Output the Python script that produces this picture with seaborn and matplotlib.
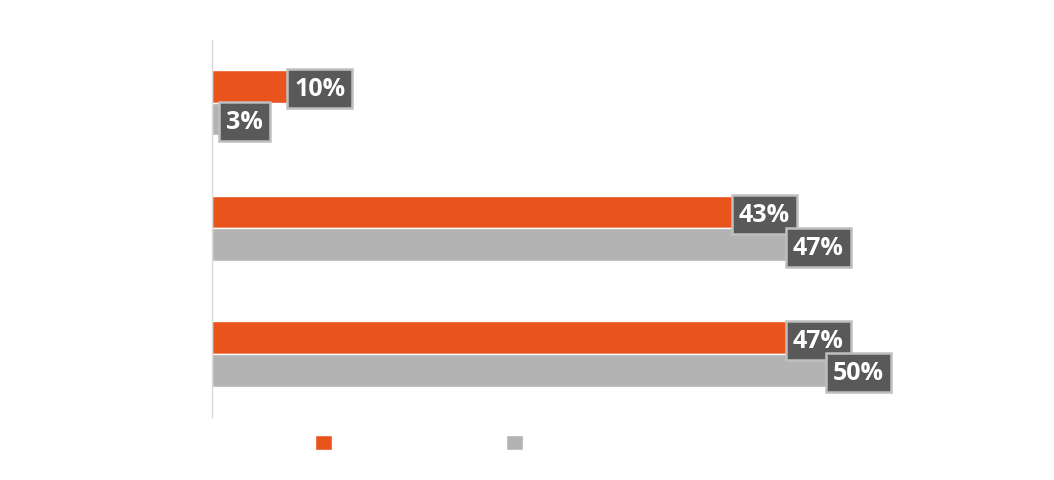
import matplotlib
matplotlib.use('Agg')
import matplotlib.pyplot as plt
from matplotlib.patches import Patch
import pandas as pd
import seaborn as sns

# data (category/legend text is white on white in the source)
categories = ['No impact', 'Improved somewhat', 'Improved greatly']
series = ['Before the program', 'After the program']
before = [10, 43, 47]
after = [3, 47, 50]

ORANGE = '#E9541D'
GREY = '#B3B3B3'
BOX = '#595959'
BOX_EDGE = '#BFBFBF'
AXIS = '#D9D9D9'

df = pd.DataFrame({
    'category': categories * 2,
    'series': [series[0]] * 3 + [series[1]] * 3,
    'value': before + after,
})

sns.set_theme(style='white')
plt.rcParams['font.family'] = ['Open Sans', 'DejaVu Sans']

fig = plt.figure(figsize=(10.54, 4.81), dpi=100)
ax = fig.add_axes([0.201, 0.131, 0.767, 0.784])

sns.barplot(data=df, y='category', x='value', hue='series', order=categories,
            hue_order=series, palette=[ORANGE, GREY], orient='h',
            width=0.52, gap=0, saturation=1, legend=False, ax=ax)

ax.set_xlim(0, 60)
ax.set_ylim(2.5, -0.5)
ax.set_xlabel('')
ax.set_ylabel('')
ax.set_xticks([])
ax.tick_params(axis='y', length=0, colors='white', labelsize=12, pad=10)
for sp in ['top', 'right', 'bottom']:
    ax.spines[sp].set_visible(False)
ax.spines['left'].set_color(AXIS)
ax.spines['left'].set_linewidth(1)

# value labels: dark boxes with light border sitting over the bar ends,
# kept clear of the axis line for short bars
for container in ax.containers:
    for bar in container:
        w = bar.get_width()
        yc = bar.get_y() + bar.get_height() / 2 + 0.02
        ax.text(max(w - 2.0, 2.4), yc, f'{w:.0f}%', ha='center', va='center',
                color='white', fontsize=18, fontweight='bold',
                bbox=dict(boxstyle='square,pad=0.28', facecolor=BOX,
                          edgecolor=BOX_EDGE, linewidth=1.8))

handles = [Patch(facecolor=ORANGE), Patch(facecolor=GREY)]
leg = fig.legend(handles, series, loc='center left', bbox_to_anchor=(0.2925, 0.075),
                 borderaxespad=0, ncol=2, frameon=False, fontsize=12,
                 handlelength=1, handleheight=1, handletextpad=0.6,
                 columnspacing=0.7)
for t in leg.get_texts():
    t.set_color('white')

fig.savefig('out.png', dpi=100, facecolor='white')
